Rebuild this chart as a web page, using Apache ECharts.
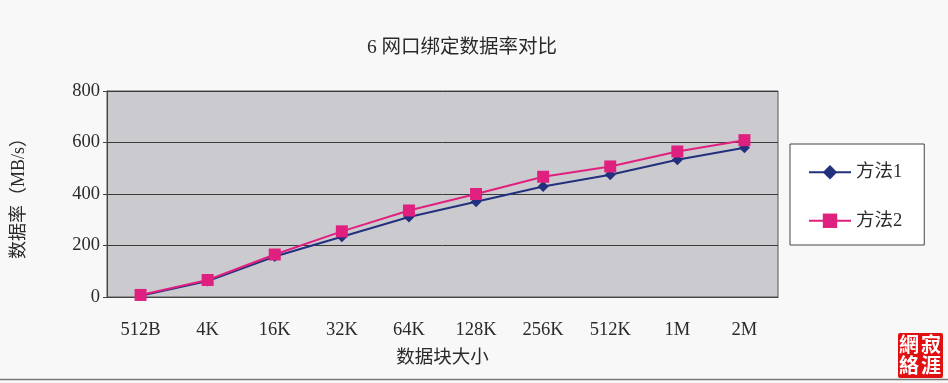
<!DOCTYPE html>
<html><head><meta charset="utf-8">
<script src="https://cdn.jsdelivr.net/npm/echarts@6/dist/echarts.min.js"></script>
<style>html,body{margin:0;padding:0;background:#f8f8f8}#c{width:948px;height:383px}</style>
</head><body><div id="c"></div>
<script>
const categories = ['512B','4K','16K','32K','64K','128K','256K','512K','1M','2M'];
const method1 = [5, 62, 157, 234, 311, 370, 429, 475, 533, 580];
const method2 = [8, 66, 165, 255, 336, 400, 467, 507, 565, 609];
const yTicks = { min: 0, max: 800, interval: 200 };
const serif = '"Liberation Serif","Noto Sans CJK SC",serif';
const chart = echarts.init(document.getElementById('c'));
chart.setOption({
  backgroundColor: '#f8f8f8',
  animation: false,
  title: { text: '6 网口绑定数据率对比', left: 457, top: 33, textAlign: 'center',
    textStyle: { fontFamily: serif, fontSize: 19.5, fontWeight: 'normal', color: '#2a2a2a' } },
  grid: { left: 107, right: 170, top: 91, bottom: 86, show: true, backgroundColor: '#cbcbcf', borderColor: '#555', borderWidth: 1 },
  legend: { orient: 'vertical', left: 790, top: 144, padding: [19, 22, 15, 18], itemGap: 30,
    itemWidth: 42, itemHeight: 18, backgroundColor: '#ffffff', borderColor: '#444', borderWidth: 1,
    textStyle: { fontFamily: serif, fontSize: 18.5, color: '#2a2a2a' }, data: ['方法1','方法2'] },
  xAxis: { type: 'category', data: categories, boundaryGap: true,
    name: '数据块大小', nameLocation: 'middle', nameGap: 52,
    nameTextStyle: { fontFamily: serif, fontSize: 18.5, color: '#2a2a2a' },
    axisLine: { lineStyle: { color: '#444' } },
    axisTick: { inside: true, length: 7, lineStyle: { color: '#444' } },
    axisLabel: { fontFamily: serif, fontSize: 18.5, color: '#2a2a2a', margin: 24 } },
  yAxis: { type: 'value', min: yTicks.min, max: yTicks.max, interval: yTicks.interval,
    name: '数据率（MB/s）', nameLocation: 'middle', nameGap: 79, nameRotate: 90,
    nameTextStyle: { fontFamily: serif, fontSize: 18, color: '#2a2a2a' },
    axisLine: { show: true, lineStyle: { color: '#444' } },
    axisTick: { show: true, length: 4, lineStyle: { color: '#444' } },
    splitLine: { lineStyle: { color: '#3a3a3a', width: 1 } },
    axisLabel: { fontFamily: serif, fontSize: 18.5, color: '#2a2a2a', margin: 7 } },
  series: [
    { name: '方法1', type: 'line', data: method1, symbol: 'diamond', symbolSize: 11,
      lineStyle: { color: '#22307e', width: 2 }, itemStyle: { color: '#22307e' } },
    { name: '方法2', type: 'line', data: method2, symbol: 'rect', symbolSize: 12,
      lineStyle: { color: '#e0207e', width: 2 }, itemStyle: { color: '#e0207e' } }
  ],
  graphic: [
    { type: 'line', shape: { x1: 0, y1: 379.5, x2: 948, y2: 379.5 }, style: { stroke: '#777', lineWidth: 1.5 } },
    { type: 'rect', left: 898, top: 333, shape: { width: 45, height: 45, r: 2 }, style: { fill: '#e01010' } },
    { type: 'text', left: 921, top: 334, style: { text: '寂\n涯', fill: '#fff', fontSize: 20, lineHeight: 21, fontFamily: '"Noto Sans CJK TC"', fontWeight: 'bold' } },
    { type: 'text', left: 899, top: 334, style: { text: '網\n絡', fill: '#fff', fontSize: 20, lineHeight: 21, fontFamily: '"Noto Sans CJK TC"', fontWeight: 'bold' } }
  ]
});
</script></body></html>
